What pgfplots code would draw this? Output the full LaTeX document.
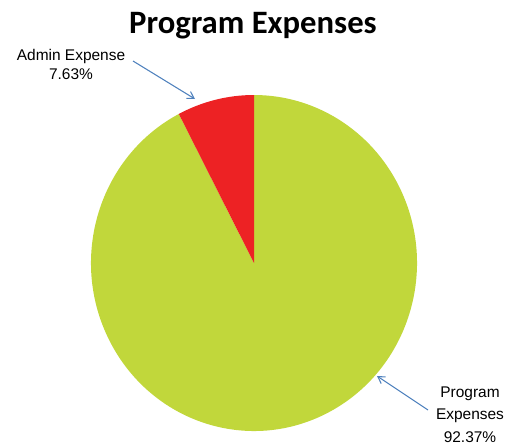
\documentclass[border=0pt]{standalone}
\usepackage{pgfplots}
\pgfplotsset{compat=1.18}
\usepackage{fontspec}
\setmainfont{Liberation Sans}
\newfontfamily\titlefont{Carlito}
\usetikzlibrary{arrows.meta}

\definecolor{pgreen}{RGB}{193,215,59}
\definecolor{pred}{RGB}{237,34,36}
\definecolor{arrowblue}{RGB}{79,129,189}

% shares in percent
\def\adminshare{7.63}
\def\progshare{92.37}
\pgfmathsetmacro\splitangle{90+3.6*\adminshare}
\pgfmathsetmacro\endangle{\splitangle+3.6*\progshare}

\begin{document}
\begin{tikzpicture}
\begin{axis}[
    scale only axis,
    width=386.25pt, height=333pt,
    xmin=0, xmax=515, ymin=0, ymax=444,
    hide axis,
    clip=false,
]
% program expenses slice
\fill[pgreen] (axis cs:254,181)
    -- (axis cs:{254+163*cos(\splitangle)},{181+168*sin(\splitangle)})
    arc[start angle=\splitangle, end angle=\endangle, x radius=122.25pt, y radius=126pt]
    -- cycle;
% admin expense slice
\fill[pred] (axis cs:254,181) -- (axis cs:254,349)
    arc[start angle=90, end angle=\splitangle, x radius=122.25pt, y radius=126pt]
    -- cycle;

\node[anchor=base, font=\titlefont\bfseries\fontsize{24.5}{28}\selectfont]
    at (axis cs:253,411) {Program Expenses};

% base anchor = baseline of the last line
\node[anchor=base, align=center, font=\fontsize{11.6}{14.5}\selectfont]
    at (axis cs:71,364) {Admin Expense\\7.63\%};
\node[anchor=base, align=center, font=\fontsize{11.6}{17}\selectfont]
    at (axis cs:470,1.5) {Program\\Expenses\\92.37\%};

\draw[arrowblue, line width=0.8pt, -{Straight Barb[length=5pt,width=6pt]}]
    (axis cs:133,383) -- (axis cs:195,345);
\draw[arrowblue, line width=0.8pt, -{Straight Barb[length=5pt,width=6pt]}]
    (axis cs:428,34) -- (axis cs:377,68);
\end{axis}
\pgfresetboundingbox
\path (current axis.south west) rectangle (current axis.north east);
\end{tikzpicture}
\end{document}
